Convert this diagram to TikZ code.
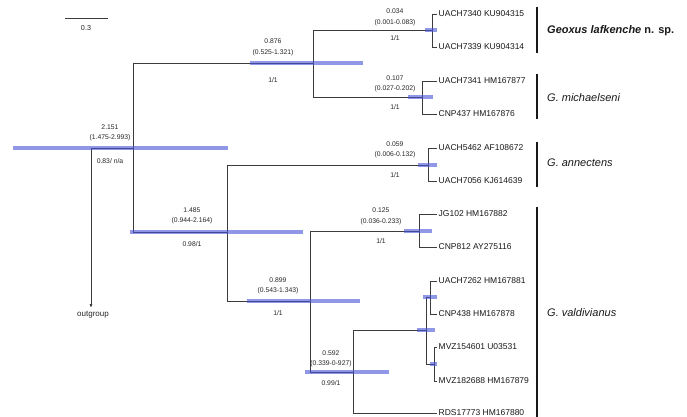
\documentclass[tikz,border=0pt]{standalone}
\usepackage{fontspec}
\setmainfont{Liberation Sans}
\usetikzlibrary{arrows.meta}

\definecolor{hpdblue}{RGB}{70,82,215}
\definecolor{branchgray}{RGB}{60,60,60}

\tikzset{
	branch/.style={draw=branchgray, line width=0.9pt},
	hpd/.style={draw=hpdblue, line width=4pt, opacity=0.6},
	lab/.style={font=\fontsize{6.8}{7}\selectfont, text=black!85, inner sep=0pt},
	leaf/.style={anchor=west, font=\fontsize{8.5}{10}\selectfont, text=black!90, inner sep=1.5pt},
	clade/.style={line width=2.5pt, black!90},
	cladename/.style={anchor=west, font=\fontsize{11}{13}\selectfont\itshape, text=black!90, inner sep=2pt}
}

\begin{document}
\begin{tikzpicture}[x=1pt, y=-1pt]
	\useasboundingbox[fill=white] (0,0) rectangle (687,417);
	
	% Scale bar
	\draw[branch] (65,18) -- (108,18);
	\node[lab, font=\fontsize{7.2}{8}\selectfont] (scale) at (86,28) {0.3};
	
	% Internal nodes
	\coordinate (root) at (91,148);
	\coordinate (ingroup) at (133,148);
	\coordinate (nA) at (313,63);
	\coordinate (geo) at (432,30);
	\coordinate (mic) at (422,97);
	\coordinate (nB) at (227,232);
	\coordinate (ann) at (428,165);
	\coordinate (nC) at (310,301);
	\coordinate (jg) at (419,231);
	\coordinate (nD) at (353,372);
	\coordinate (nE) at (426,330);
	\coordinate (nF) at (430,297);
	\coordinate (nG) at (434,364);
	
	% Branches
	\draw[branch] (root) -- (ingroup);
	\foreach \p/\c in {ingroup/nA, nA/geo, nA/mic, ingroup/nB, nB/ann, nB/nC, nC/jg, nC/nD, nD/nE, nE/nF, nE/nG}
	\draw[branch] (\p) |- (\c);
	
	% Leaves
	\foreach \p/\n/\y/\t in {geo/l1/14/UACH7340 KU904315, geo/l2/47/UACH7339 KU904314,
		mic/l3/81/UACH7341 HM167877, mic/l4/114/CNP437 HM167876,
		ann/l5/148/UACH5462 AF108672, ann/l6/181/UACH7056 KJ614639,
		jg/l7/214/JG102 HM167882, jg/l8/247/CNP812 AY275116,
		nF/l9/281/UACH7262 HM167881, nF/l10/314/CNP438 HM167878,
		nG/l11/347/MVZ154601 U03531, nG/l12/381/MVZ182688 HM167879,
		nD/l13/413/RDS17773 HM167880}
	{
		\node[leaf] (\n) at (437,\y) {\t};
		\draw[branch] (\p) |- (\n.west);
	}
	
	% Outgroup
	\node[font=\fontsize{8}{9}\selectfont, text=black!85] (out) at (93,315) {outgroup};
	\draw[branch, -{Latex[length=4pt,width=3pt]}] (root) -- (root |- out.north);
	
	% HPD bars
	\foreach \a/\b/\y in {13/228/148, 250/363/63, 425/437/30, 408/433/97, 418/437/165,
		130/303/232, 247/360/301, 404/432/231, 305/389/372, 417/435/330, 423/437/297, 430/437/364}
	\draw[hpd] (\a,\y) -- (\b,\y);
	
	% Ages, intervals and supports
	\foreach \n/\x/\ya/\yb/\yc/\h/\ci/\pp in {
		root/110/127/138/161/2.151/(1.475-2.993)/{0.83/ n/a},
		A/273/41/53/80/0.876/(0.525-1.321)/{1/1},
		geo/395/11/23/38/0.034/(0.001-0.083)/{1/1},
		mic/395/78/89/107/0.107/(0.027-0.202)/{1/1},
		ann/395/144/155/175/0.059/(0.006-0.132)/{1/1},
		B/192/210/221/244/1.485/(0.944-2.164)/{0.98/1},
		C/278/280/291/313/0.899/(0.543-1.343)/{1/1},
		jg/381/210/222/241/0.125/(0.036-0.233)/{1/1},
		D/331/353/364/383/0.592/(0.339-0-927)/{0.99/1}}
	{
		\node[lab] (\n-h) at (\x,\ya) {\h};
		\node[lab] (\n-ci) at (\x,\yb) {\ci};
		\node[lab] (\n-pp) at (\x,\yc) {\pp};
	}
	
	% Clades
	\draw[clade] (537,7) -- (537,53);
	\draw[clade] (537,74) -- (537,119);
	\draw[clade] (537,142) -- (537,187);
	\draw[clade] (537,207) -- (537,417);
	\node[cladename] (geoxus) at (545,31) {\bfseries Geoxus lafkenche\/ \upshape n. sp.};
	\node[cladename] (michaelseni) at (545,98) {G. michaelseni};
	\node[cladename] (annectens) at (545,163) {G. annectens};
	\node[cladename] (valdivianus) at (545,313) {G. valdivianus};
\end{tikzpicture}
\end{document}
